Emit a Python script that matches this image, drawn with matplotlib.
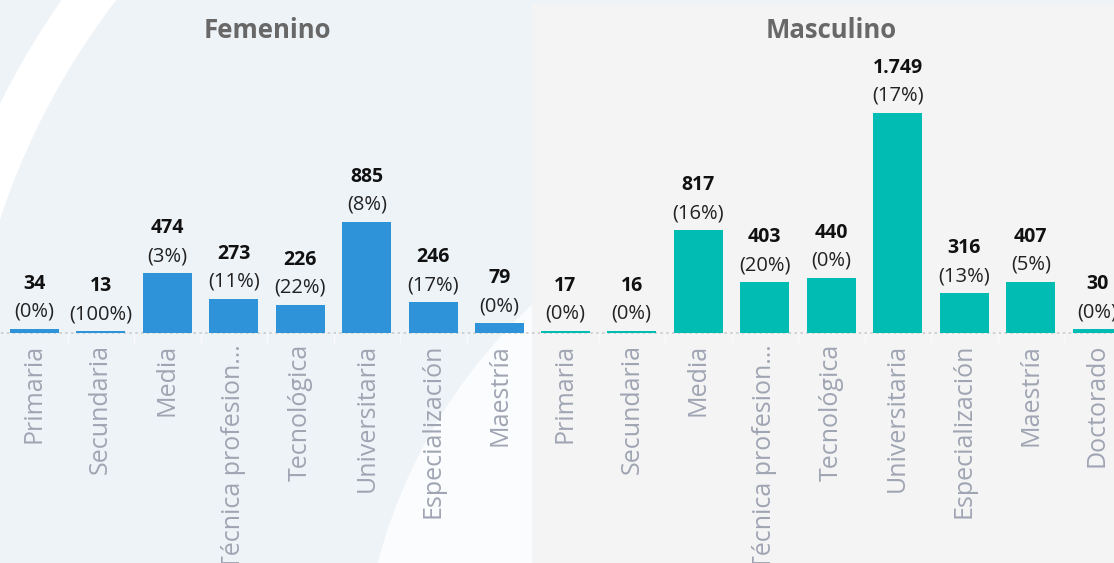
import matplotlib
matplotlib.use("Agg")
import matplotlib.pyplot as plt
from matplotlib.patches import Wedge, Circle, Rectangle
from matplotlib.transforms import blended_transform_factory

plt.rcParams['font.family'] = ['Open Sans', 'DejaVu Sans']

# ---- data ----
fem_categories = ["Primaria", "Secundaria", "Media", "Técnica profesion…", "Tecnológica",
                  "Universitaria", "Especialización", "Maestría"]
fem_values = [34, 13, 474, 273, 226, 885, 246, 79]
fem_pct = [0, 100, 3, 11, 22, 8, 17, 0]

mas_categories = ["Primaria", "Secundaria", "Media", "Técnica profesion…", "Tecnológica",
                  "Universitaria", "Especialización", "Maestría", "Doctorado"]
mas_values = [17, 16, 817, 403, 440, 1749, 316, 407, 30]
mas_pct = [0, 0, 16, 20, 0, 17, 13, 5, 0]

titles = ["Femenino", "Masculino"]

# ---- figure ----
W, H = 1114, 563
fig = plt.figure(figsize=(W / 100, H / 100), dpi=100)
fig.patch.set_facecolor('#EEF3F8')

# background decoration axes (pixel coordinates)
bg = fig.add_axes([0, 0, 1, 1])
bg.set_xlim(0, W)
bg.set_ylim(H, 0)
bg.axis('off')
bg.add_patch(Wedge((700, 450), 781, 0, 360, width=44, facecolor='white', edgecolor='none'))
bg.add_patch(Circle((900, 700), 540, facecolor='#FBFCFD', edgecolor='none'))
bg.add_patch(Rectangle((532, 5), W - 532, H - 5, facecolor='#F4F4F4', edgecolor='none'))

base_px = 333
top_px = 60
scale = 0.1259  # px per unit
ymax = (base_px - top_px) / scale
ax_h = (base_px - top_px) / H
ax_b = (H - base_px) / H

panels = [
    (fem_categories, fem_values, fem_pct, '#2E93D9', 1, 532),
    (mas_categories, mas_values, mas_pct, '#00BCB3', 532, 598.5),
]

for (cats, vals, pcts, color, x0, w), title in zip(panels, titles):
    ax = fig.add_axes([x0 / W, ax_b, w / W, ax_h])
    ax.set_facecolor('none')
    n = len(cats)
    xs = list(range(n))
    ax.bar(xs, vals, width=0.73, color=color, zorder=3)
    ax.set_xlim(-0.5, n - 0.5)
    ax.set_ylim(0, ymax)
    for s in ax.spines.values():
        s.set_visible(False)
    ax.set_yticks([])
    ax.set_xticks(xs)
    ax.set_xticklabels(cats, rotation=90, ha='center', va='top',
                       fontsize=18, color='#A0A5B3')
    ax.tick_params(axis='x', length=0, pad=8)
    ax.axhline(0, color='#C9CCCF', lw=1.2, ls=(0, (1.5, 2)), zorder=2, clip_on=False)
    tr = blended_transform_factory(ax.transData, ax.transAxes)
    for b in range(1, n):
        ax.plot([b - 0.5, b - 0.5], [0, -9 / (base_px - top_px)], color='#F9FAFB',
                lw=1, transform=tr, clip_on=False, zorder=1)
    for i, (v, p) in enumerate(zip(vals, pcts)):
        ax.annotate(f"{v:,}".replace(',', '.'), (i, v), xytext=(0, 45),
                    textcoords='offset pixels', ha='center', va='center',
                    fontsize=14, fontweight='bold', color='#111111')
        ax.annotate(f"({p}%)", (i, v), xytext=(0, 17),
                    textcoords='offset pixels', ha='center', va='center',
                    fontsize=14.5, color='#222222')
    ax.text(0.5, 1 + 30 / (base_px - top_px), title, transform=ax.transAxes,
            ha='center', va='center', fontsize=18.5, fontweight='bold', color='#686868')

fig.savefig('out.png', dpi=100, facecolor=fig.get_facecolor())
